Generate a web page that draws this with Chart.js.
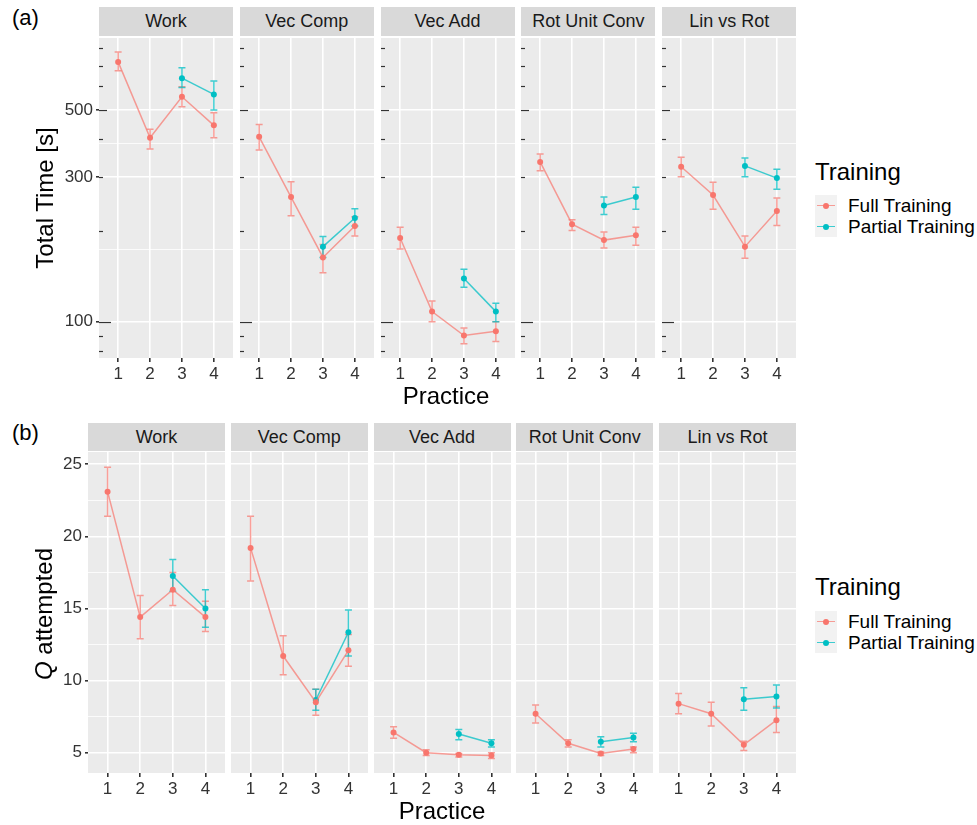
<!DOCTYPE html>
<html>
<head>
<meta charset="utf-8">
<script src="https://cdn.jsdelivr.net/npm/chart.js@4.4.1/dist/chart.umd.min.js"></script>
<style>
  body { margin: 0; background: #fff; }
  #wrap { position: relative; width: 977px; height: 825px; background: #fff; overflow: hidden;
          font-family: "Liberation Sans", Arial, Helvetica, sans-serif; color: #000; }
  #wrap canvas { position: absolute; }
  .txt { position: absolute; white-space: nowrap; }
  .strip { position: absolute; background: #D9D9D9; color: #1a1a1a; font-size: 18px; text-align: center; }
  .key { position: absolute; width: 22px; height: 21px; background: #F2F2F2; }
</style>
</head>
<body>
<div id="wrap"></div>
<script>
// ---- data ----
const tasks = ['Work', 'Vec Comp', 'Vec Add', 'Rot Unit Conv', 'Lin vs Rot'];
const practice = [1, 2, 3, 4];
const practicePartial = [3, 4];

// (a) total time [s], one row per task
const timeFull   = [[721, 405, 553, 445], [408, 258, 163, 207], [189, 108, 90, 93], [337, 210, 186, 193], [325, 262, 177, 232]];
const timeFullLo = [[674, 372, 513, 405], [369, 224, 145, 192], [174, 100, 84.6, 86], [315, 200, 175, 179], [301, 235, 162, 208]];
const timeFullHi = [[778, 432, 597, 490], [448, 290, 180, 222], [205, 117, 95.3, 100], [358, 217, 198, 205], [349, 289, 192, 256]];
const timePart   = [[637, 563], [177, 220], [139, 108], [242, 258], [327, 298]];
const timePartLo = [[594, 500], [163, 207], [130, 100], [226, 235], [301, 274]];
const timePartHi = [[689, 623], [191, 236], [149, 115], [258, 278], [347, 319]];

// (b) questions attempted
const qFull   = [[23.1, 14.4, 16.3, 14.4], [19.2, 11.7, 8.5, 12.1], [6.4, 5.0, 4.85, 4.8], [7.7, 5.65, 4.95, 5.25], [8.4, 7.7, 5.55, 7.25]];
const qFullLo = [[21.4, 12.9, 15.2, 13.4], [16.9, 10.4, 7.6, 11.0], [6.0, 4.8, 4.7, 4.6], [7.05, 5.4, 4.8, 5.0], [7.7, 6.85, 5.15, 6.4]];
const qFullHi = [[24.8, 15.9, 17.5, 15.5], [21.4, 13.1, 9.4, 13.2], [6.8, 5.2, 4.95, 5.0], [8.3, 5.9, 5.05, 5.4], [9.1, 8.5, 5.8, 8.2]];
const qPart   = [[17.25, 15.0], [8.65, 13.35], [6.3, 5.65], [5.75, 6.05], [8.7, 8.9]];
const qPartLo = [[16.2, 13.7], [7.95, 11.7], [5.9, 5.4], [5.4, 5.75], [7.95, 8.1]];
const qPartHi = [[18.4, 16.3], [9.4, 14.9], [6.6, 5.9], [6.1, 6.35], [9.5, 9.7]];

// axis ticks
const timeTicks = [100, 300, 500];
const timeMinor = [173.2, 387.3];
const logTicks = [80, 90, 100, 200, 300, 400, 500, 600, 700, 800];
const qTicks = [5, 10, 15, 20, 25];
const qMinor = [7.5, 12.5, 17.5, 22.5];
const xTicks = [1, 2, 3, 4];

// ---- look ----
const FONT = '"Liberation Sans", Arial, Helvetica, sans-serif';
const RED = '#F8766D', CYAN = '#00BFC4';
const RED_A = 'rgba(248,118,109,0.7)', CYAN_A = 'rgba(0,191,196,0.75)';

const wrap = document.getElementById('wrap');

function addText(html, css) {
  const d = document.createElement('div');
  d.className = 'txt';
  d.innerHTML = html;
  Object.assign(d.style, css);
  wrap.appendChild(d);
  return d;
}

const panelBg = {
  id: 'panelBg',
  beforeDraw(chart) {
    const a = chart.chartArea, ctx = chart.ctx;
    ctx.save();
    ctx.fillStyle = '#EBEBEB';
    ctx.fillRect(a.left, a.top, a.right - a.left, a.bottom - a.top);
    ctx.restore();
  }
};

const errorBars = {
  id: 'errorBars',
  beforeDatasetsDraw(chart) {
    const ctx = chart.ctx, xs = chart.scales.x, ys = chart.scales.y;
    chart.data.datasets.forEach(ds => {
      ctx.save();
      ctx.strokeStyle = ds.errColor;
      ctx.lineWidth = 1.5;
      ds.data.forEach((p, k) => {
        const x = xs.getPixelForValue(p.x);
        const y1 = ys.getPixelForValue(ds.lo[k]);
        const y2 = ys.getPixelForValue(ds.hi[k]);
        ctx.beginPath();
        ctx.moveTo(x, y1); ctx.lineTo(x, y2);
        ctx.moveTo(x - 3.5, y1); ctx.lineTo(x + 3.5, y1);
        ctx.moveTo(x - 3.5, y2); ctx.lineTo(x + 3.5, y2);
        ctx.stroke();
      });
      ctx.restore();
    });
  }
};

// log ticks along the left edge inside each panel of (a)
const logTickMarks = {
  id: 'logTickMarks',
  beforeDatasetsDraw(chart) {
    const ctx = chart.ctx, ys = chart.scales.y, left = chart.chartArea.left;
    ctx.save();
    ctx.strokeStyle = '#333';
    ctx.lineWidth = 1.2;
    logTicks.forEach(v => {
      const y = Math.round(ys.getPixelForValue(v)) + 0.5;
      const len = v === 100 ? 12 : (v === 500 ? 8 : 4);
      ctx.beginPath();
      ctx.moveTo(left, y); ctx.lineTo(left + len, y);
      ctx.stroke();
    });
    ctx.restore();
  }
};

function makeDataset(xs, vals, lo, hi, col, colA) {
  return {
    data: xs.map((x, k) => ({ x: x, y: vals[k] })),
    lo: lo, hi: hi, errColor: colA,
    borderColor: colA, borderWidth: 1.5,
    pointRadius: 3, pointBackgroundColor: col, pointBorderWidth: 0,
    tension: 0
  };
}

function makePanel(cfg) {
  const first = cfg.index === 0;
  const yw = first ? cfg.yAxisW : 0;
  const c = document.createElement('canvas');
  c.width = cfg.w + yw;
  c.height = cfg.h + 30;
  c.style.left = (cfg.left - yw) + 'px';
  c.style.top = cfg.top + 'px';
  wrap.appendChild(c);

  const plugins = [panelBg, errorBars];
  if (cfg.log) plugins.push(logTickMarks);

  new Chart(c, {
    type: 'line',
    data: { datasets: cfg.datasets },
    plugins: plugins,
    options: {
      responsive: false,
      animation: false,
      events: [],
      layout: { padding: 0, autoPadding: false },
      plugins: { legend: { display: false }, tooltip: { enabled: false }, title: { display: false } },
      scales: {
        x: {
          type: 'linear', min: 0.4, max: 4.6,
          afterBuildTicks: s => { s.ticks = xTicks.map(v => ({ value: v })); },
          afterFit: s => { s.height = 30; s.paddingLeft = 0; s.paddingRight = 0; },
          border: { display: false },
          grid: { color: '#fff', lineWidth: 1.6, drawTicks: true, tickLength: 4, tickColor: '#333' },
          ticks: { autoSkip: false, maxRotation: 0, padding: 2, color: '#333',
                   font: { family: FONT, size: 17 }, callback: v => String(v) }
        },
        y: {
          type: cfg.log ? 'logarithmic' : 'linear',
          min: cfg.yMin, max: cfg.yMax,
          afterBuildTicks: s => { s.ticks = cfg.major.concat(cfg.minor).map(v => ({ value: v })); },
          afterFit: s => { s.width = yw; s.paddingTop = 0; s.paddingBottom = 0; },
          border: { display: false },
          grid: {
            color: '#fff',
            lineWidth: ctx => cfg.major.includes(ctx.tick.value) ? 1.6 : 0.8,
            drawTicks: first, tickLength: 3,
            tickColor: ctx => cfg.major.includes(ctx.tick.value) ? '#333' : 'rgba(0,0,0,0)'
          },
          ticks: { display: first, padding: 3, color: '#333', font: { family: FONT, size: 17 },
                   callback: v => cfg.major.includes(v) ? String(v) : '' }
        }
      }
    }
  });
}

// ---- row (a) ----
tasks.forEach((t, i) => {
  const left = 99 + i * 140.8;
  const s = document.createElement('div');
  s.className = 'strip';
  Object.assign(s.style, { left: left + 'px', top: '7px', width: '134px', height: '29px', lineHeight: '29px' });
  s.textContent = t;
  wrap.appendChild(s);
  makePanel({
    index: i, left: left, top: 38, w: 134, h: 320, yAxisW: 45, log: true,
    yMin: 75.9, yMax: 864.6, major: timeTicks, minor: timeMinor,
    datasets: [
      makeDataset(practice, timeFull[i], timeFullLo[i], timeFullHi[i], RED, RED_A),
      makeDataset(practicePartial, timePart[i], timePartLo[i], timePartHi[i], CYAN, CYAN_A)
    ]
  });
});

// ---- row (b) ----
tasks.forEach((t, i) => {
  const left = 88 + i * 142.75;
  const s = document.createElement('div');
  s.className = 'strip';
  Object.assign(s.style, { left: left + 'px', top: '423px', width: '137px', height: '28px', lineHeight: '28px' });
  s.textContent = t;
  wrap.appendChild(s);
  makePanel({
    index: i, left: left, top: 452, w: 137, h: 321, yAxisW: 40, log: false,
    yMin: 3.59, yMax: 25.85, major: qTicks, minor: qMinor,
    datasets: [
      makeDataset(practice, qFull[i], qFullLo[i], qFullHi[i], RED, RED_A),
      makeDataset(practicePartial, qPart[i], qPartLo[i], qPartHi[i], CYAN, CYAN_A)
    ]
  });
});

// ---- titles and labels ----
const center = { transform: 'translate(-50%,-50%)' };
addText('(a)', { left: '12px', top: '18px', fontSize: '22px', transform: 'translateY(-50%)' });
addText('(b)', { left: '12px', top: '433px', fontSize: '22px', transform: 'translateY(-50%)' });
addText('Total Time [s]', { left: '45px', top: '198px', fontSize: '24px', transform: 'translate(-50%,-50%) rotate(-90deg)' });
addText('<i>Q</i> attempted', { left: '44px', top: '614px', fontSize: '24px', transform: 'translate(-50%,-50%) rotate(-90deg)' });
addText('Practice', Object.assign({ left: '446px', top: '396px', fontSize: '24px' }, center));
addText('Practice', Object.assign({ left: '442px', top: '811px', fontSize: '24px' }, center));

// ---- legends ----
function legend(titleY, keyTop) {
  addText('Training', { left: '815px', top: titleY + 'px', fontSize: '24px', transform: 'translateY(-50%)' });
  [['Full Training', RED, RED_A], ['Partial Training', CYAN, CYAN_A]].forEach((e, k) => {
    const top = keyTop + k * 21;
    const key = document.createElement('div');
    key.className = 'key';
    key.style.left = '815px';
    key.style.top = top + 'px';
    key.innerHTML =
      '<div style="position:absolute;left:2px;right:2px;top:9.5px;height:1.5px;background:' + e[2] + '"></div>' +
      '<div style="position:absolute;left:8px;top:7.5px;width:6px;height:6px;border-radius:50%;background:' + e[1] + '"></div>';
    wrap.appendChild(key);
    addText(e[0], { left: '848px', top: (top + 10.5) + 'px', fontSize: '19px', transform: 'translateY(-50%)' });
  });
}
legend(172, 195);
legend(587, 611);
</script>
</body>
</html>
